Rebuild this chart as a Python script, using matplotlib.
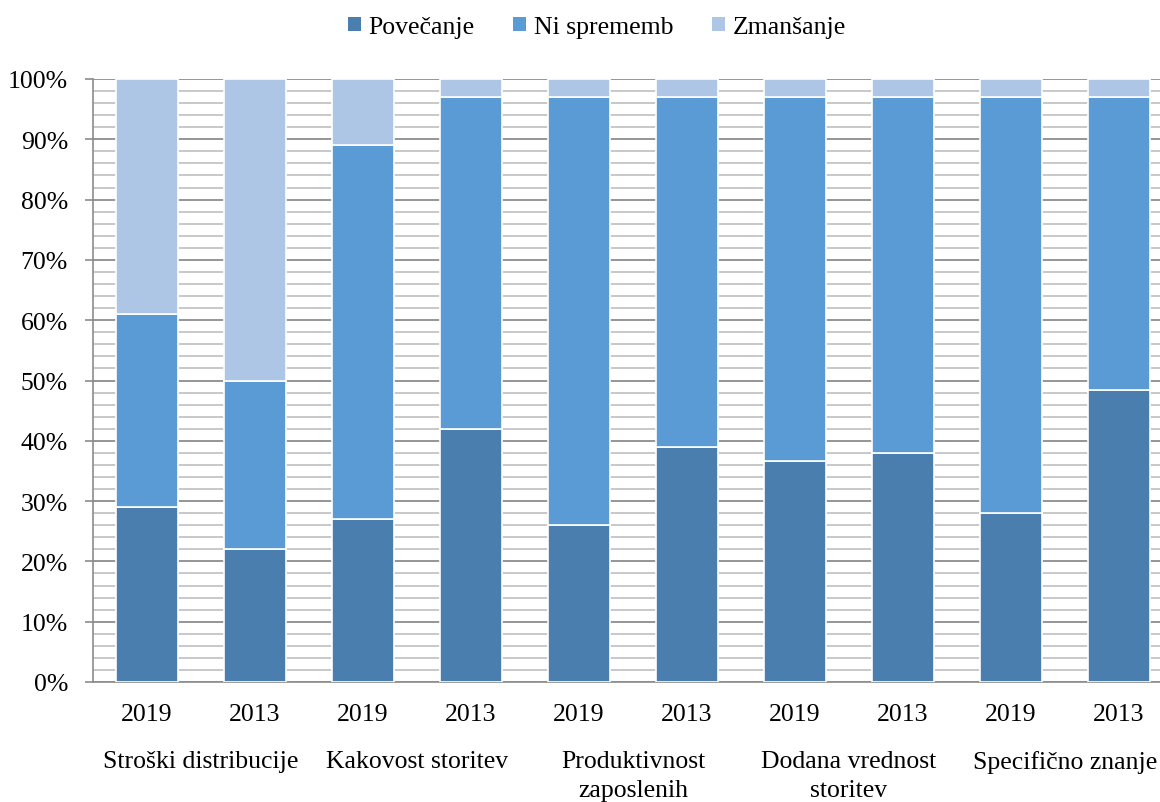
import matplotlib
matplotlib.use("Agg")
import matplotlib.pyplot as plt
from matplotlib.ticker import MultipleLocator, PercentFormatter
from matplotlib.patches import Patch

plt.rcParams['font.family'] = ['Liberation Serif', 'DejaVu Serif']

# Survey answers per factor, two survey years each (shares in %)
groups = ["Stroški distribucije", "Kakovost storitev", "Produktivnost\nzaposlenih",
          "Dodana vrednost\nstoritev", "Specifično znanje"]
years = ["2019", "2013"] * 5
povecanje = [29, 22, 27, 42, 26, 39, 36.6, 38, 28, 48.5]
ni_sprememb = [32, 28, 62, 55, 71, 58, 60.4, 59, 69, 48.5]
zmansanje = [39, 50, 11, 3, 3, 3, 3, 3, 3, 3]

series_names = ["Povečanje", "Ni sprememb", "Zmanšanje"]
colors = ["#4A7EAF", "#5B9BD5", "#ADC6E5"]

FS = 18.5

W, H = 1160, 803
fig = plt.figure(figsize=(W / 100, H / 100), dpi=100)
ax = fig.add_axes([93 / W, (H - 683) / H, 1080 / W, 603 / H])

x = list(range(len(years)))
bottom = [0] * len(x)
for vals, col in zip([povecanje, ni_sprememb, zmansanje], colors):
    frac = [v / 100 for v in vals]
    ax.bar(x, frac, width=0.565, bottom=bottom, color=col,
           edgecolor="white", linewidth=1.2, zorder=3)
    bottom = [b + f for b, f in zip(bottom, frac)]

ax.set_xlim(-0.5, 9.5)
ax.set_ylim(0, 1)

# Gridlines: major every 10 %, minor every 2 %
ax.yaxis.set_major_locator(MultipleLocator(0.1))
ax.yaxis.set_minor_locator(MultipleLocator(0.02))
ax.yaxis.set_major_formatter(PercentFormatter(1.0, decimals=0))
ax.grid(axis="y", which="major", color="#8C8C8C", linewidth=1.3, zorder=0)
ax.grid(axis="y", which="minor", color="#C4C4C4", linewidth=1.3, zorder=0)
ax.set_axisbelow(True)

for s in ["top", "right"]:
    ax.spines[s].set_visible(False)
for s in ["left", "bottom"]:
    ax.spines[s].set_color("#8C8C8C")
    ax.spines[s].set_linewidth(1.2)

ax.tick_params(axis="y", which="major", length=6, width=1.2, color="#8C8C8C",
               pad=12, labelsize=FS)
ax.tick_params(axis="y", which="minor", length=0)
ax.set_xticks(x)
ax.set_xticklabels(years)
ax.tick_params(axis="x", length=0, pad=15, labelsize=FS)

# Group labels under each pair of bars
for i, g in enumerate(groups):
    ax.text(2 * i + 0.5, -0.112, g, transform=ax.get_xaxis_transform(),
            ha="center", va="top", fontsize=FS, linespacing=1.45)

handles = [Patch(facecolor=c, edgecolor="none") for c in colors]
fig.legend(handles, series_names, loc="center", ncol=3,
           bbox_to_anchor=(597 / W, 1 - 28 / H), frameon=False, fontsize=FS,
           handlelength=0.5, handleheight=0.5, handletextpad=0.3,
           columnspacing=1.5)

fig.savefig("out.png", dpi=100)
